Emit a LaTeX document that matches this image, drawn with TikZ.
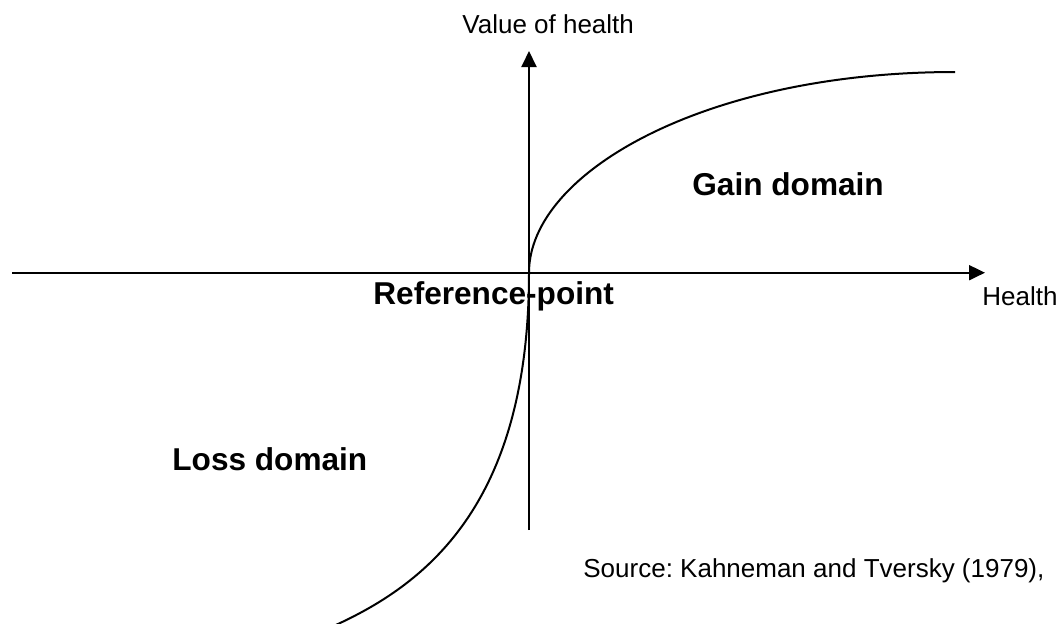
\documentclass[tikz,border=0pt]{standalone}
\usepackage{fontspec}
\setmainfont{Liberation Sans}
\usetikzlibrary{arrows.meta}
\frenchspacing
\begin{document}
\begin{tikzpicture}[x=0.5pt,y=-0.5pt,
  axis/.style={line width=1pt,-{Triangle[length=8pt,width=7.5pt]}},
  curveline/.style={line width=1pt},
  lbl/.style={inner sep=0pt,anchor=base west,font=\fontsize{13pt}{15pt}\selectfont},
  domlbl/.style={inner sep=0pt,anchor=base west,font=\fontsize{15.8pt}{18pt}\selectfont\bfseries}]
\useasboundingbox[fill=white] (0,0) rectangle (1060,623);
\coordinate (O) at (529,272.7);
\coordinate (xl) at (12,272.7);
\coordinate (xr) at (985,272.7);
\coordinate (yb) at (529,530);
\coordinate (yt) at (529,51);
\coordinate (gend) at (955,72);
\coordinate (lend) at (310,636);
\draw[axis] (xl) -- (xr);
\draw[axis] (yb) -- (yt);
\begin{scope}
\clip (0,0) rectangle (1060,623);
\draw[curveline] (O) .. controls (529,172.7) and (705,72) .. (gend);
\draw[curveline] (O) .. controls (529,522) and (410,596) .. (lend);
\end{scope}
\node[lbl] (vlab) at (462,33.3) {Value of health};
\node[lbl] (hlab) at (982,305) {Health};
\node[domlbl] (ref) at (373,304) {Reference-point};
\node[domlbl] (gain) at (692,195) {Gain domain};
\node[domlbl] (loss) at (172,470) {Loss domain};
\node[lbl] (src) at (583,577) {Source: Kahneman and Tversky (1979),};
\end{tikzpicture}
\end{document}
